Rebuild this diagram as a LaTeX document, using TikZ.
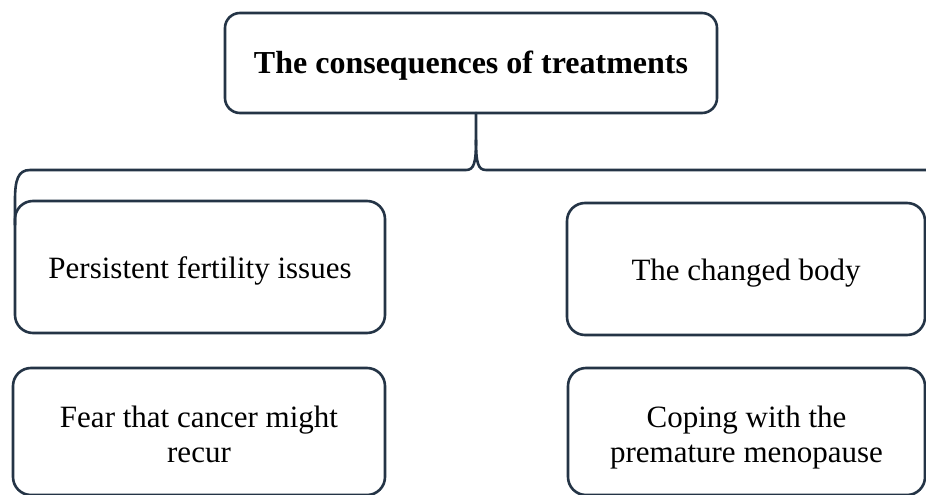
\documentclass[tikz,border=0pt]{standalone}
\usepackage{fontspec}
\setmainfont{Liberation Serif}
\usetikzlibrary{calc}
\definecolor{frame}{RGB}{36,52,70}
\tikzset{
  box/.style={draw=frame, line width=2.6pt, rounded corners=18pt, fill=white,
    inner sep=0pt, outer sep=0pt, align=center, text=black,
    font=\fontsize{31}{35}\selectfont, text height=25pt, text depth=3pt},
  twoline/.style={text height=64pt, text depth=3pt},
  link/.style={draw=frame, line width=2.6pt, line cap=round, line join=round}
}
\begin{document}
\begin{tikzpicture}[x=1pt, y=-1pt]
  \useasboundingbox[fill=white] (0,0) rectangle (926,495);

  % heading box
  \node[box, rounded corners=15pt, minimum width=492pt, minimum height=100pt,
        font=\fontsize{32}{36}\selectfont\bfseries]
    (top) at (471,63) {The consequences of treatments};

  % four consequence boxes
  \node[box, minimum width=370pt, minimum height=132pt] (fert) at (200,267)
    {Persistent fertility issues};
  \node[box, minimum width=358pt, minimum height=132pt] (body) at (746,269)
    {The changed body};
  \node[box, twoline, minimum width=372pt, minimum height=127pt] (fear) at (199,431.5)
    {Fear that cancer might\\recur};
  \node[box, twoline, minimum width=357pt, minimum height=127pt] (meno) at (746.5,431.5)
    {Coping with the\\premature menopause};

  % brace joining the heading to the boxes below
  \coordinate (cusp) at (476,140);
  \coordinate (rightend) at (930,170);
  \draw[link] (top.south -| cusp) -- (cusp)
    .. controls (476,163) and (474,170) .. (466,170)
    -- (30,170)
    .. controls (18,170) and (15,180) .. (15,200)
    -- (fert.west |- 0,225);
  \draw[link] (cusp)
    .. controls (476,163) and (478,170) .. (486,170)
    -- (rightend);
\end{tikzpicture}
\end{document}
